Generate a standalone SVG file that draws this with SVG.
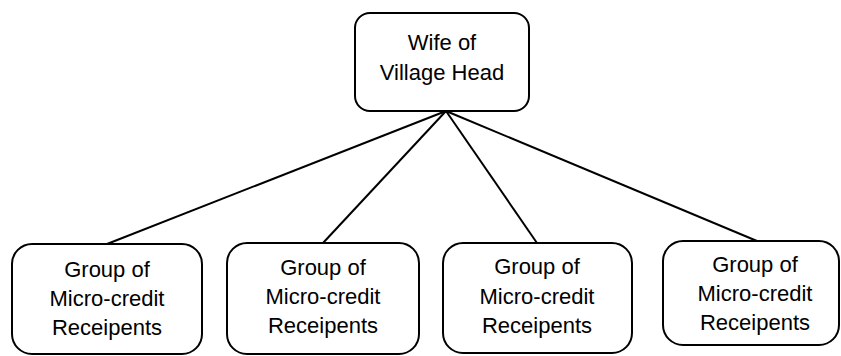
<svg xmlns="http://www.w3.org/2000/svg" width="841" height="356" viewBox="0 0 841 356">
  <style>
    .box { fill: #ffffff; stroke: #000000; stroke-width: 2; }
    .link { stroke: #000000; stroke-width: 2; fill: none; }
    .label { font-family: "Liberation Sans", Arial, sans-serif; font-size: 22px; fill: #000000; text-anchor: middle; }
  </style>
  <rect width="841" height="356" fill="#ffffff"/>

  <g id="connectors">
    <line class="link" x1="446" y1="111" x2="107" y2="244"/>
    <line class="link" x1="446" y1="111" x2="323" y2="243"/>
    <line class="link" x1="446" y1="111" x2="537" y2="243"/>
    <line class="link" x1="446" y1="111" x2="757" y2="241"/>
  </g>

  <g id="wife-of-village-head">
    <rect class="box" x="355" y="13" width="174" height="98" rx="15" ry="15"/>
    <text class="label" x="442" y="50">Wife of</text>
    <text class="label" x="442" y="80">Village Head</text>
  </g>

  <g id="group-1">
    <rect class="box" x="12" y="244" width="190" height="110" rx="20" ry="20"/>
    <text class="label" x="107" y="277">Group of</text>
    <text class="label" x="107" y="306">Micro-credit</text>
    <text class="label" x="107" y="335">Receipents</text>
  </g>

  <g id="group-2">
    <rect class="box" x="227" y="243" width="192" height="111" rx="20" ry="20"/>
    <text class="label" x="323" y="275">Group of</text>
    <text class="label" x="323" y="304">Micro-credit</text>
    <text class="label" x="323" y="333">Receipents</text>
  </g>

  <g id="group-3">
    <rect class="box" x="443" y="243" width="189" height="110" rx="20" ry="20"/>
    <text class="label" x="537" y="274">Group of</text>
    <text class="label" x="537" y="304">Micro-credit</text>
    <text class="label" x="537" y="333">Receipents</text>
  </g>

  <g id="group-4">
    <rect class="box" x="663" y="241" width="176" height="104" rx="20" ry="20"/>
    <text class="label" x="755" y="272">Group of</text>
    <text class="label" x="755" y="301">Micro-credit</text>
    <text class="label" x="755" y="330">Receipents</text>
  </g>
</svg>
